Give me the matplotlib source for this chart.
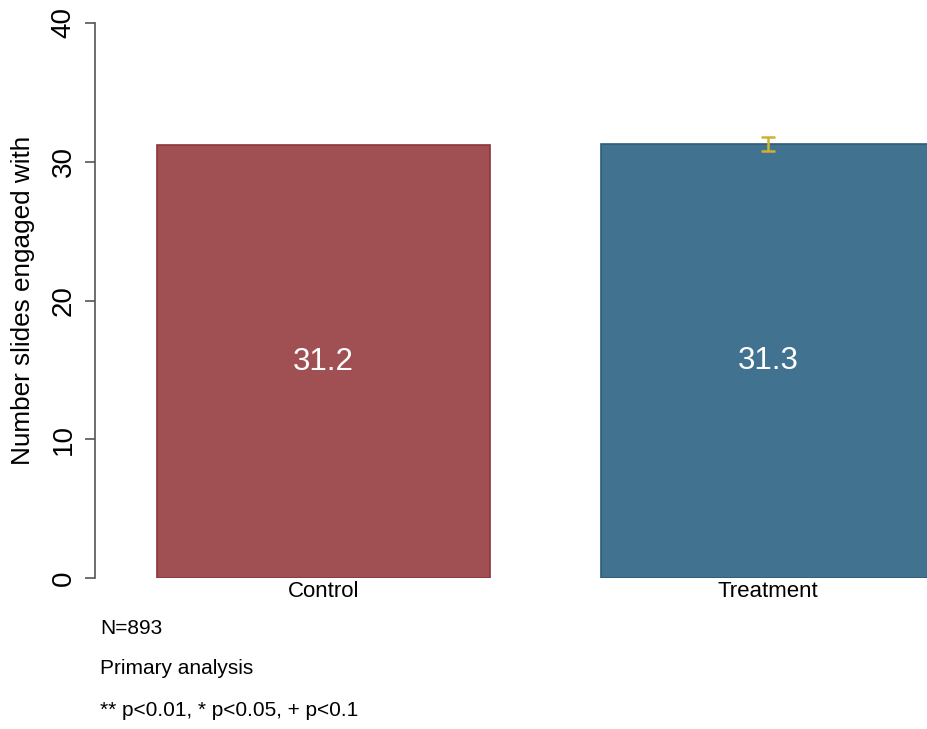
import matplotlib
matplotlib.use("Agg")
import matplotlib.pyplot as plt

plt.rcParams['font.family'] = ['Liberation Sans', 'DejaVu Sans']

groups = ["Control", "Treatment"]
means = [31.2, 31.3]
ci_half = [None, 0.5]
fills = ["#A05052", "#41728F"]
edges = ["#8E3438", "#2D5C7A"]
yticks = [0, 10, 20, 30, 40]
notes = ["N=893", "Primary analysis", "** p<0.01, * p<0.05, + p<0.1"]

W, H = 928, 729
fig = plt.figure(figsize=(W / 100, H / 100), dpi=100)
left_px, right_px, top_px, bot_px = 95, 941, 23, 578
ax = fig.add_axes([left_px / W, 1 - bot_px / H, (right_px - left_px) / W, (bot_px - top_px) / H])

x = list(range(len(groups)))
ax.bar(x, means, width=0.75, color=fills, edgecolor=edges, linewidth=1.2, zorder=2)
for xi, m, c in zip(x, means, ci_half):
    ax.text(xi, m / 2, f"{m:.1f}", color="white", fontsize=22.5, ha="center", va="center", zorder=3)
    if c is not None:
        ax.errorbar(xi, m, yerr=c, fmt="none", ecolor="#D2B030", elinewidth=1.8, capsize=5, capthick=1.8, zorder=4)

ax.set_xlim(-0.515, 1.39)
ax.set_ylim(0, 40)
ax.set_yticks(yticks)
ax.set_yticklabels([str(t) for t in yticks], rotation=90, va="center", fontsize=20)
ax.tick_params(axis="y", direction="out", length=7.2, width=1.2, colors="#555555", labelcolor="black", pad=6)
ax.set_xticks(x)
ax.set_xticklabels(groups, fontsize=16)
ax.tick_params(axis="x", length=0, pad=2)
for s in ["top", "right", "bottom"]:
    ax.spines[s].set_visible(False)
ax.spines["left"].set_color("#555555")
ax.spines["left"].set_linewidth(1.2)

fig.text(23 / W, 1 - 300 / H, "Number slides engaged with", fontsize=18.8,
         rotation=90, ha="center", va="center")

for t, ypx in zip(notes, [629, 669, 711]):
    fig.text(100 / W, 1 - ypx / H, t, fontsize=15, ha="left", va="center")

fig.savefig("out.png", dpi=100)
